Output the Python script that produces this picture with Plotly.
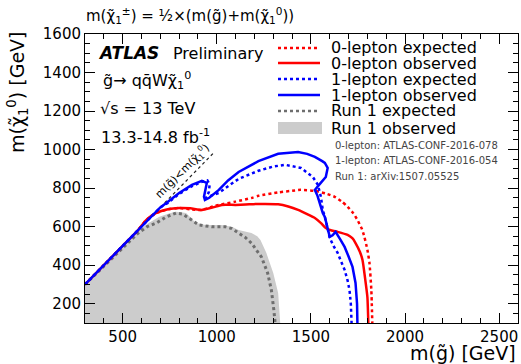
import plotly.graph_objects as go

# ---------------- data ----------------
red_obs_x = [300, 400, 500, 580, 626, 679, 740, 800, 860, 921, 980, 1026, 1100, 1153, 1221, 1326, 1380, 1432, 1480, 1521, 1555, 1579, 1610, 1642, 1695, 1720, 1737, 1760, 1774, 1789, 1800, 1805]
red_obs_y = [300, 400, 500, 580, 635, 671, 690, 697, 695, 687, 700, 713, 713, 715, 718, 716, 705, 687, 665, 645, 617, 593, 580, 573, 557, 540, 515, 470, 427, 323, 235, 100]

red_exp_x = [300, 400, 500, 580, 626, 679, 740, 800, 860, 921, 980, 1011, 1100, 1184, 1221, 1326, 1416, 1447, 1521, 1580, 1626, 1665, 1695, 1725, 1747, 1770, 1784, 1800, 1811, 1821, 1826]
red_exp_y = [300, 400, 500, 580, 635, 671, 690, 697, 690, 687, 705, 713, 730, 749, 760, 778, 788, 791, 786, 772, 755, 730, 703, 670, 635, 590, 547, 480, 412, 271, 100]

blue_obs_x = [300, 400, 500, 600, 650, 700, 732, 800, 868, 921, 947, 940, 932, 937, 960, 1011, 1060, 1116, 1221, 1326, 1432, 1480, 1521, 1560, 1574, 1589, 1585, 1579, 1550, 1521, 1535, 1547, 1563, 1574, 1589, 1600, 1615, 1631, 1655, 1679, 1700, 1721, 1737, 1745, 1747]
blue_obs_y = [300, 400, 500, 600, 650, 700, 723, 775, 817, 838, 827, 790, 755, 739, 750, 791, 840, 884, 940, 978, 988, 978, 962, 940, 931, 905, 880, 858, 825, 791, 760, 723, 671, 651, 583, 547, 555, 573, 535, 495, 445, 391, 308, 200, 100]

blue_exp_x = [300, 400, 500, 600, 650, 700, 740, 800, 868, 921, 950, 962, 958, 942, 980, 1011, 1060, 1116, 1221, 1300, 1363, 1447, 1510, 1537, 1553, 1563, 1574, 1589, 1600, 1620, 1642, 1660, 1679, 1695, 1705, 1712, 1716]
blue_exp_y = [300, 400, 500, 600, 650, 700, 723, 770, 810, 833, 840, 818, 780, 749, 765, 775, 810, 848, 890, 912, 921, 905, 858, 817, 755, 687, 651, 583, 542, 500, 464, 420, 376, 320, 271, 200, 100]

run1_exp_x = [300, 400, 500, 580, 630, 679, 730, 784, 820, 853, 905, 974, 1047, 1080, 1116, 1150, 1184, 1210, 1237, 1270, 1290, 1303, 1310]
run1_exp_y = [300, 395, 490, 565, 600, 619, 650, 671, 665, 645, 609, 599, 599, 590, 567, 545, 515, 480, 443, 360, 271, 168, 100]

run1_obs_x = [300, 300, 400, 500, 589, 640, 695, 750, 784, 837, 889, 942, 1026, 1080, 1116, 1150, 1184, 1215, 1232, 1263, 1300, 1326, 1337, 1337]
run1_obs_y = [100, 300, 400, 500, 583, 620, 651, 670, 677, 671, 619, 609, 609, 600, 583, 575, 567, 550, 531, 464, 360, 256, 115, 100]

diag_x = [300, 990]
diag_y = [300, 990]

x_range = [300, 2600]
y_range = [100, 1600]
x_major_step, x_minor_step = 500, 100
y_major_step, y_minor_step = 200, 50

legend_labels = ["0-lepton expected", "0-lepton observed", "1-lepton expected",
                 "1-lepton observed", "Run 1 expected", "Run 1 observed"]
ref_labels = ["0-lepton: ATLAS-CONF-2016-078", "1-lepton: ATLAS-CONF-2016-054",
              "Run 1: arXiv:1507.05525"]

FONT = "DejaVu Sans"
RED = "#ff0000"
BLUE = "#0000ff"
GREY = "#cccccc"
DGREY = "#6e6e6e"

# geometry of plot area (pixels)
W, H = 521, 364
L, R, T, B = 85, 3, 34, 41
PW, PH = W - L - R, H - T - B


def px(xp):
    return (xp - L) / PW


def py(yp):
    return (H - B - yp) / PH


fig = go.Figure()

fig.add_trace(go.Scatter(x=run1_obs_x, y=run1_obs_y, mode="lines", fill="toself",
                         fillcolor=GREY, line=dict(width=0, color=GREY), hoverinfo="skip"))
fig.add_trace(go.Scatter(x=run1_exp_x, y=run1_exp_y, mode="lines",
                         line=dict(color=DGREY, width=3, dash="dot")))
fig.add_trace(go.Scatter(x=diag_x, y=diag_y, mode="lines",
                         line=dict(color="#222222", width=1.2, dash="dot")))
fig.add_trace(go.Scatter(x=red_exp_x, y=red_exp_y, mode="lines",
                         line=dict(color=RED, width=2.5, dash="dot", shape="spline", smoothing=0.5)))
fig.add_trace(go.Scatter(x=red_obs_x, y=red_obs_y, mode="lines",
                         line=dict(color=RED, width=2.5, shape="spline", smoothing=0.5)))
fig.add_trace(go.Scatter(x=blue_exp_x, y=blue_exp_y, mode="lines",
                         line=dict(color=BLUE, width=2.5, dash="dot")))
fig.add_trace(go.Scatter(x=blue_obs_x, y=blue_obs_y, mode="lines",
                         line=dict(color=BLUE, width=2.5)))

axis_common = dict(showline=True, linecolor="black", linewidth=1, mirror="ticks",
                   ticks="inside", tickcolor="black", ticklen=10, tickwidth=1,
                   showgrid=False, zeroline=False, tickmode="linear", tick0=0,
                   tickfont=dict(family=FONT, size=15, color="black"))

fig.update_xaxes(range=x_range, dtick=x_major_step,
                 minor=dict(ticks="inside", ticklen=5, dtick=x_minor_step, tick0=0,
                            tickcolor="black", tickwidth=1, showgrid=False),
                 **axis_common)
fig.update_yaxes(range=y_range, dtick=y_major_step,
                 minor=dict(ticks="inside", ticklen=5, dtick=y_minor_step, tick0=0,
                            tickcolor="black", tickwidth=1, showgrid=False),
                 **axis_common)

ann = []
shapes = []

# axis titles
ann.append(dict(text="m(g̃) [GeV]", xref="paper", yref="paper", x=px(518), y=py(353),
                xanchor="right", yanchor="middle", showarrow=False,
                font=dict(family=FONT, size=19, color="black")))
ann.append(dict(text="m(χ̃<sub>1</sub><sup>0</sup>) [GeV]", xref="paper", yref="paper",
                x=px(18), y=py(29), xanchor="center", yanchor="top", textangle=-90,
                showarrow=False, font=dict(family=FONT, size=19, color="black")))
# top formula
ann.append(dict(text="m(χ̃<sub>1</sub><sup>±</sup>) = ½×(m(g̃)+m(χ̃<sub>1</sub><sup>0</sup>))",
                xref="paper", yref="paper", x=px(84), y=py(15), xanchor="left",
                yanchor="middle", showarrow=False, font=dict(family=FONT, size=15, color="black")))

# ATLAS labels
ann.append(dict(text="<b><i>ATLAS</i></b>", xref="paper", yref="paper", x=px(96), y=py(53),
                xanchor="left", yanchor="middle", showarrow=False,
                font=dict(family=FONT, size=17, color="black")))
ann.append(dict(text="Preliminary", xref="paper", yref="paper", x=px(171), y=py(53),
                xanchor="left", yanchor="middle", showarrow=False,
                font=dict(family=FONT, size=16, color="black")))
ann.append(dict(text="g̃→ qq̄Wχ̃<sub>1</sub><sup>0</sup>", xref="paper", yref="paper",
                x=px(101), y=py(80), xanchor="left", yanchor="middle", showarrow=False,
                font=dict(family=FONT, size=16, color="black")))
ann.append(dict(text="√s = 13 TeV", xref="paper", yref="paper", x=px(98), y=py(108),
                xanchor="left", yanchor="middle", showarrow=False,
                font=dict(family=FONT, size=16, color="black")))
ann.append(dict(text="13.3-14.8 fb<sup>-1</sup>", xref="paper", yref="paper", x=px(99),
                y=py(136), xanchor="left", yanchor="middle", showarrow=False,
                font=dict(family=FONT, size=16, color="black")))

# diagonal label
ann.append(dict(text="m(g̃)<m(χ̃<sub>1</sub><sup>0</sup>)", x=818, y=888, xref="x", yref="y",
                textangle=-45, showarrow=False,
                font=dict(family=FONT, size=11, color="black")))

# manual legend
rows_y = [48, 63, 79, 95, 111, 128]
styles = [(RED, "dot"), (RED, "solid"), (BLUE, "dot"), (BLUE, "solid"), (DGREY, "dot"), None]
for lab, ry, st in zip(legend_labels, rows_y, styles):
    if st is not None:
        col, dash = st
        shapes.append(dict(type="line", xref="paper", yref="paper", x0=px(278), x1=px(320),
                           y0=py(ry), y1=py(ry), line=dict(color=col, width=2.5, dash=dash)))
    else:
        shapes.append(dict(type="rect", xref="paper", yref="paper", x0=px(278), x1=px(322),
                           y0=py(ry + 6), y1=py(ry - 6), fillcolor=GREY, line=dict(width=0)))
    ann.append(dict(text=lab, xref="paper", yref="paper", x=px(329), y=py(ry),
                    xanchor="left", yanchor="middle", showarrow=False,
                    font=dict(family=FONT, size=16, color="black")))

for lab, ry in zip(ref_labels, [145, 160, 176]):
    ann.append(dict(text=lab, xref="paper", yref="paper", x=px(333), y=py(ry),
                    xanchor="left", yanchor="middle", showarrow=False,
                    font=dict(family=FONT, size=10, color="#444444")))

fig.update_layout(width=W, height=H, margin=dict(l=L, r=R, t=T, b=B),
                  paper_bgcolor="white", plot_bgcolor="white", showlegend=False,
                  annotations=ann, shapes=shapes)

fig.write_html("out.html")
